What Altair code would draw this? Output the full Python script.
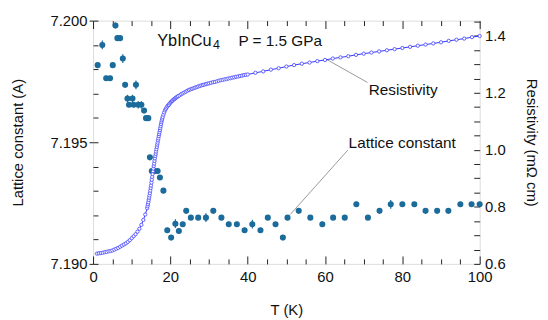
import altair as alt
import pandas as pd

# ---- Lattice constant data ----
lat_T = [1.2, 2.4, 3.4, 4.4, 5.1, 5.8, 6.3, 7.0, 7.7, 8.3, 8.9, 9.3, 10.2, 10.5, 11.1,
         11.7, 12.5, 13.2, 13.7, 14.3, 14.7, 15.2, 16.0, 16.7, 17.3, 18.2, 19.2, 20.2,
         21.3, 22.2, 23.2, 24.1, 25.3, 27.2, 29.2, 31.1, 33.2, 35.1, 37.2, 39.2, 41.2,
         43.3, 45.2, 47.2, 49.1, 50.3, 53.2, 56.2, 59.3, 62.1, 65.1, 68.1, 71.1, 74.1,
         77.0, 80.0, 83.1, 86.0, 89.0, 91.9, 95.0, 97.9, 100.0]
lat_a = [7.19817, 7.19900, 7.19763, 7.19763, 7.19817, 7.19980, 7.19928, 7.19928, 7.19844,
         7.19736, 7.19680, 7.19654, 7.19680, 7.19654, 7.19736, 7.19654, 7.19654, 7.19630,
         7.19599, 7.19599, 7.19438, 7.19382, 7.19382, 7.19382, 7.19355, 7.19301, 7.19138,
         7.19108, 7.19165, 7.19135, 7.19163, 7.19218, 7.19190, 7.19190, 7.19190, 7.19218,
         7.19190, 7.19163, 7.19163, 7.19138, 7.19163, 7.19138, 7.19190, 7.19163, 7.19108,
         7.19190, 7.19218, 7.19190, 7.19163, 7.19190, 7.19190, 7.19245, 7.19190, 7.19218,
         7.19245, 7.19245, 7.19245, 7.19218, 7.19218, 7.19218, 7.19245, 7.19245, 7.19245]
lat_err = [0.0001, 0.00018, 0.0001, 0.0001, 0.0001, 0.00012, 0.0001, 0.0001, 0.00018,
           0.0001, 0.00015, 0.0001, 0.00015, 0.0001, 0.00018, 0.00015, 0.00015, 0.0001,
           0.0001, 0.0001, 0.0001, 0.0001, 0.0001, 0.0001, 0.0001, 0.0001, 0.0001,
           0.0001, 0.00018, 0.0001, 0.0001, 0.0001, 0.0001, 0.0001, 0.00018, 0.0001,
           0.0001, 0.0001, 0.0001, 0.0001, 0.00018, 0.0001, 0.0001, 0.0001, 0.0001,
           0.0001, 0.0001, 0.0001, 0.0001, 0.0001, 0.0001, 0.0001, 0.0001, 0.0001,
           0.00018, 0.0001, 0.0001, 0.0001, 0.0001, 0.0001, 0.0001, 0.0001, 0.0001]

# ---- Resistivity data ----
res_T = [1.0, 1.5, 2.0, 2.5, 3.0, 3.5, 4.0, 4.5, 5.0, 5.5, 6.0, 6.5, 7.0, 7.5, 8.0, 8.5,
         9.0, 9.5, 10.0, 10.5, 11.0, 11.5, 12.0, 12.5, 13.0, 13.5,
         14.0, 14.1, 14.2, 14.3, 14.4, 14.5, 14.6, 14.7, 14.8, 14.9,
         15.0, 15.1, 15.2, 15.3, 15.4, 15.5, 15.6, 15.7, 15.8, 15.9,
         16.0, 16.1, 16.2, 16.3, 16.4, 16.5, 16.6, 16.7, 16.8, 16.9,
         17.0, 17.1, 17.2, 17.3, 17.4, 17.5, 17.6, 17.7, 17.8, 17.9,
         18.0, 18.2, 18.4, 18.6, 18.8, 19.0, 19.2, 19.4, 19.6, 19.8,
         20.0, 20.2, 20.4, 20.6, 20.8, 21.0, 21.2, 21.4, 21.6, 21.8,
         22.0, 22.4, 22.8, 23.2, 23.6, 24.0, 24.4, 24.8, 25.2, 25.6,
         26.0, 26.4, 26.8, 27.2, 27.6, 28.0, 28.4, 28.8, 29.2, 29.6,
         30.0, 30.5, 31.0, 31.5, 32.0, 32.5, 33.0, 33.5, 34.0, 34.5,
         35.0, 35.5, 36.0, 36.5, 37.0, 37.5, 38.0, 38.5, 39.0, 39.5,
         40, 42, 44, 46, 48, 50, 52, 54, 56, 58, 60, 62, 64, 66, 68, 70,
         72, 74, 76, 78, 80, 82, 84, 86, 88, 90, 92, 94, 96, 98, 100]
res_rho = [0.636, 0.637, 0.638, 0.639, 0.641, 0.642, 0.644, 0.645, 0.647, 0.650, 0.653,
           0.656, 0.660, 0.664, 0.668, 0.672, 0.677, 0.683, 0.690, 0.697, 0.704, 0.713,
           0.723, 0.737, 0.754, 0.773,
           0.795, 0.802, 0.809, 0.816, 0.824, 0.832, 0.840, 0.848, 0.857, 0.866,
           0.875, 0.885, 0.895, 0.905, 0.915, 0.925, 0.934, 0.943, 0.952, 0.961,
           0.970, 0.978, 0.986, 0.994, 1.002, 1.010, 1.018, 1.025, 1.033, 1.040,
           1.048, 1.055, 1.062, 1.069, 1.076, 1.083, 1.090, 1.097, 1.103, 1.109,
           1.115, 1.123, 1.131, 1.138, 1.143, 1.148, 1.152, 1.156, 1.157, 1.162,
           1.165, 1.168, 1.171, 1.173, 1.176, 1.178, 1.180, 1.182, 1.184, 1.186,
           1.188, 1.191, 1.195, 1.198, 1.201, 1.204, 1.207, 1.210, 1.212, 1.214,
           1.216, 1.218, 1.220, 1.222, 1.224, 1.226, 1.227, 1.229, 1.230, 1.232,
           1.233, 1.235, 1.237, 1.238, 1.240, 1.242, 1.244, 1.245, 1.247, 1.248,
           1.250, 1.251, 1.253, 1.254, 1.256, 1.257, 1.259, 1.260, 1.262, 1.263,
           1.264, 1.270, 1.275, 1.281, 1.286, 1.292, 1.297, 1.302, 1.306, 1.311,
           1.315, 1.320, 1.324, 1.328, 1.333, 1.337, 1.341, 1.345, 1.349, 1.353,
           1.357, 1.361, 1.365, 1.369, 1.373, 1.377, 1.382, 1.386, 1.390, 1.395, 1.399]

# ---- Axis tick values ----
x_major = [0, 20, 40, 60, 80, 100]
x_minor = [0, 5, 10, 15, 20, 25, 30, 35, 40, 45, 50, 55, 60, 65, 70, 75, 80, 85, 90, 95, 100]
lat_major = [7.190, 7.195, 7.200]
lat_minor = [7.190, 7.191, 7.192, 7.193, 7.194, 7.195, 7.196, 7.197, 7.198, 7.199, 7.200]
res_major = [0.6, 0.8, 1.0, 1.2, 1.4]
res_minor = [0.6, 0.65, 0.7, 0.75, 0.8, 0.85, 0.9, 0.95, 1.0, 1.05, 1.1, 1.15, 1.2,
             1.25, 1.3, 1.35, 1.4, 1.45]

# ---- Annotations ----
ann_text = ["YbInCu", "4", "P = 1.5 GPa", "Resistivity", "Lattice constant"]
ann_T = [16.6, 31.0, 37.6, 71.3, 66.1]
ann_rho = [1.363, 1.352, 1.363, 1.193, 1.005]
ann_size = [16.5, 12.5, 15.5, 15.5, 15.5]
lead_T = [60.4, 51.0]
lead_T2 = [71.0, 65.9]
lead_rho = [1.317, 0.773]
lead_rho2 = [1.236, 0.999]

W, H = 391, 246
FONT = "Liberation Sans"
DOT = "#1b6b9b"

lat_df = pd.DataFrame({"T": lat_T, "a": lat_a, "err": lat_err})
lat_df["lo"] = lat_df["a"] - lat_df["err"]
lat_df["hi"] = lat_df["a"] + lat_df["err"]
res_df = pd.DataFrame({"T": res_T, "rho": res_rho})
ann_df = pd.DataFrame({"T": ann_T, "rho": ann_rho, "text": ann_text, "size": ann_size})
lead_df = pd.DataFrame({"T": lead_T, "T2": lead_T2, "rho": lead_rho, "rho2": lead_rho2})

xs = alt.Scale(domain=[0, 100], nice=False, zero=False)
ys_lat = alt.Scale(domain=[7.190, 7.200], nice=False, zero=False)
ys_res = alt.Scale(domain=[0.6, 1.453], nice=False, zero=False)

xtick = {"condition": {"test": "datum.value % 20 === 0", "value": 8}, "value": 5}

# lattice points, with labelled bottom & left axes
lat_pts = alt.Chart(lat_df).mark_circle(size=38, color=DOT, opacity=1).encode(
    x=alt.X("T:Q", scale=xs, axis=alt.Axis(
        orient="bottom", values=x_major, ticks=False, domain=False, grid=False,
        labelFlush=False, labelPadding=6, labelFontSize=15, labelFont=FONT,
        labelColor="#111",
        title="T (K)", titleFont=FONT, titleFontSize=15, titleFontWeight="normal",
        titleColor="#111", titleX=W / 2, titleY=46, titleAlign="center",
        titleBaseline="middle")),
    y=alt.Y("a:Q", scale=ys_lat, axis=alt.Axis(
        orient="left", values=lat_major, format=".3f", tickSize=4, tickColor="#222",
        domain=False, grid=False, labelFlush=False, labelPadding=2, labelFontSize=15,
        labelFont=FONT, labelColor="#111", title="Lattice constant  (A)",
        titleFont=FONT, titleFontSize=15, titleFontWeight="normal", titleColor="#111",
        titleX=-76, titleY=H / 2, titleAlign="center", titleBaseline="middle",
        titleAngle=270)),
)

# lattice error bars, with inside ticks at bottom (x) and at left (y)
lat_err_bars = alt.Chart(lat_df).mark_rule(color=DOT, strokeWidth=1.2).encode(
    x=alt.X("T:Q", scale=xs, axis=alt.Axis(
        orient="top", offset=-H, values=x_minor, labels=False, domain=False,
        grid=False, tickSize=xtick, tickColor="#222", title=None)),
    y=alt.Y("lo:Q", scale=ys_lat, axis=alt.Axis(
        orient="right", offset=-W, values=lat_minor, labels=False, domain=False,
        grid=False, tickSize=5, tickColor="#222", title=None)),
    y2="hi:Q",
)

# resistivity line, with top inside ticks and labelled right axis
res_line = alt.Chart(res_df).mark_line(color="#3535ff", strokeWidth=1).encode(
    x=alt.X("T:Q", scale=xs, axis=alt.Axis(
        orient="bottom", offset=-H, values=x_minor, labels=False, domain=False,
        grid=False, tickSize=xtick, tickColor="#222", title=None)),
    y=alt.Y("rho:Q", scale=ys_res, axis=alt.Axis(
        orient="right", values=res_major, format=".1f", ticks=False, domain=False,
        grid=False, labelFlush=False, labelPadding=5, labelFontSize=15,
        labelFont=FONT, labelColor="#111", title="Resistivity (mΩ cm)",
        titleFont=FONT, titleFontSize=15, titleFontWeight="normal", titleColor="#111",
        titleX=52, titleY=H / 2, titleAlign="center", titleBaseline="middle",
        titleAngle=90)),
)

# resistivity markers, with inside ticks at right
res_pts = alt.Chart(res_df).mark_point(
    shape="circle", size=11, filled=True, fill="white", stroke="#5050ff",
    strokeWidth=0.9, opacity=1).encode(
    x=alt.X("T:Q", scale=xs, axis=None),
    y=alt.Y("rho:Q", scale=ys_res, axis=alt.Axis(
        orient="left", offset=-W, values=res_minor, labels=False, domain=False,
        grid=False, tickSize=6, tickColor="#222", title=None)),
)

leaders = alt.Chart(lead_df).mark_rule(color="#999999", strokeWidth=1).encode(
    x=alt.X("T:Q", scale=xs, axis=None),
    x2="T2:Q",
    y=alt.Y("rho:Q", scale=ys_res, axis=None),
    y2="rho2:Q",
)

labels = alt.Chart(ann_df).mark_text(
    align="left", baseline="alphabetic", font=FONT, color="#111").encode(
    x=alt.X("T:Q", scale=xs, axis=None),
    y=alt.Y("rho:Q", scale=ys_res, axis=None),
    text="text:N",
    size=alt.Size("size:Q", scale=None, legend=None),
)

chart = alt.layer(
    lat_err_bars, lat_pts, leaders, res_line, res_pts, labels
).resolve_scale(y="independent").resolve_axis(x="independent", y="independent").properties(
    width=W, height=H,
    padding={"left": 86, "top": 11, "right": 61, "bottom": 55},
    autosize=alt.AutoSizeParams(type="none"),
).configure_view(stroke="#222", strokeWidth=1).configure(background="white")

chart.save("out.html", embed_options={"renderer": "svg", "actions": False})
